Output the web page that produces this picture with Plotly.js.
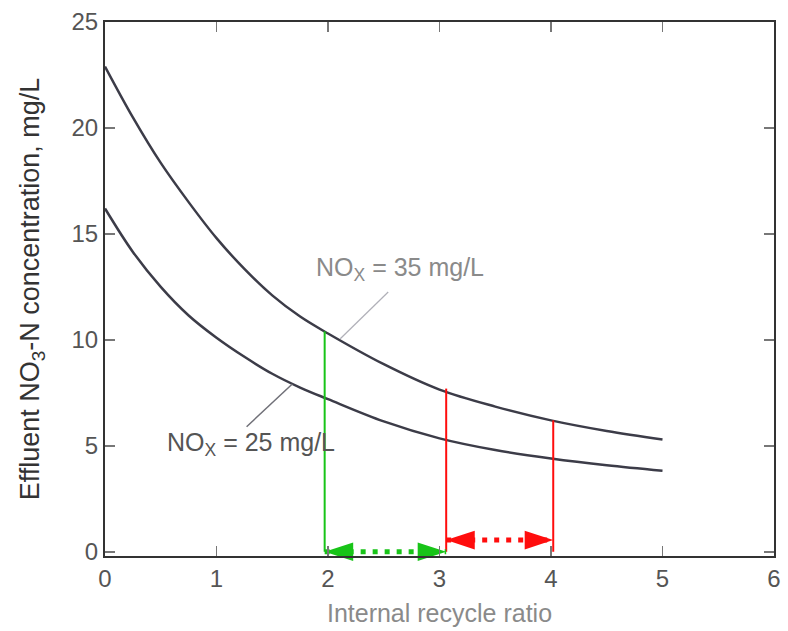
<!DOCTYPE html>
<html>
<head>
<meta charset="utf-8">
<script src="https://cdn.plot.ly/plotly-3.0.1.min.js"></script>
<style>html,body{margin:0;padding:0;background:#fff;}#chart{width:788px;height:631px;}</style>
</head>
<body>
<div id="chart"></div>
<script>
// Internal recycle ratio (x) and effluent NO3-N concentration (mg/L)
var recycleRatio = [0, 0.25, 0.5, 0.75, 1, 1.25, 1.5, 1.75, 2, 2.5, 3, 3.5, 4, 4.5, 5];
var nox35 = [22.9, 20.5, 18.35, 16.5, 14.8, 13.35, 12.1, 11.1, 10.3, 8.85, 7.65, 6.85, 6.2, 5.7, 5.3];
var nox25 = [16.2, 14.15, 12.5, 11.15, 10.1, 9.2, 8.4, 7.75, 7.2, 6.15, 5.35, 4.8, 4.4, 4.08, 3.82];

// Highlight markers (vertical lines) : x position and top value
var greenLineX = [1.97, 1.97];
var greenLineY = [0, 10.4];
var redLine1X = [3.06, 3.06];
var redLine1Y = [0, 7.7];
var redLine2X = [4.02, 4.02];
var redLine2Y = [0, 6.2];

// Double-headed dotted arrows
var greenArrowX = [1.97, 3.06];
var greenArrowY = [0, 0];
var redArrowX = [3.06, 4.02];
var redArrowY = [0.55, 0.55];

// Labels and leader lines
var label35Text = 'NO<sub>X</sub> = 35 mg/L';
var label35Pos = [2.65, 13.35];
var leader35X = [2.54, 2.11];
var leader35Y = [12.26, 10.05];
var label25Text = 'NO<sub>X</sub> = 25 mg/L';
var label25Pos = [1.31, 5.1];
var leader25X = [1.27, 1.68];
var leader25Y = [5.9, 7.92];

var xTicks = [0, 1, 2, 3, 4, 5, 6];
var yTicks = [0, 5, 10, 15, 20, 25];

var FONT = 'Liberation Sans, Arial, Helvetica, sans-serif';
var curveColor = '#3c3c48';
var green = '#18c418';
var red = '#ff0d0d';

var traces = [
  {x: recycleRatio, y: nox35, mode: 'lines', line: {color: curveColor, width: 2.5, shape: 'spline', smoothing: 1}, hoverinfo: 'skip'},
  {x: recycleRatio, y: nox25, mode: 'lines', line: {color: curveColor, width: 2.5, shape: 'spline', smoothing: 1}, hoverinfo: 'skip'},
  {x: leader35X, y: leader35Y, mode: 'lines', line: {color: '#b0b0b8', width: 1.2}, hoverinfo: 'skip'},
  {x: leader25X, y: leader25Y, mode: 'lines', line: {color: '#707078', width: 1.5}, hoverinfo: 'skip'},
  {x: greenLineX, y: greenLineY, mode: 'lines', line: {color: green, width: 2}, hoverinfo: 'skip'},
  {x: redLine1X, y: redLine1Y, mode: 'lines', line: {color: red, width: 2}, hoverinfo: 'skip'},
  {x: redLine2X, y: redLine2Y, mode: 'lines', line: {color: red, width: 2}, hoverinfo: 'skip'},
  {x: greenArrowX, y: greenArrowY, mode: 'lines+markers', cliponaxis: false,
   line: {color: green, width: 5, dash: '5px,7px'},
   marker: {symbol: 'arrow', size: 30, color: green, angle: [-90, 90], angleref: 'up', line: {width: 0}},
   hoverinfo: 'skip'},
  {x: redArrowX, y: redArrowY, mode: 'lines+markers', cliponaxis: false,
   line: {color: red, width: 5, dash: '5px,7px'},
   marker: {symbol: 'arrow', size: 30, color: red, angle: [-90, 90], angleref: 'up', line: {width: 0}},
   hoverinfo: 'skip'}
];

var layout = {
  width: 788, height: 631,
  margin: {l: 105, r: 14, t: 22, b: 75},
  paper_bgcolor: '#fff', plot_bgcolor: '#fff',
  showlegend: false,
  font: {family: FONT, size: 24, color: '#444'},
  xaxis: {
    range: [0, 6], tickvals: xTicks, ticktext: xTicks.map(String),
    ticks: 'inside', ticklen: 10, tickwidth: 1.5, tickcolor: '#777',
    showline: true, linecolor: '#333', linewidth: 2, mirror: 'ticks',
    showgrid: false, zeroline: false,
    tickfont: {family: FONT, size: 24, color: '#555'},
    title: {text: 'Internal recycle ratio', font: {family: FONT, size: 25, color: '#8a8a8a'}, standoff: 14}
  },
  yaxis: {
    range: [-0.2, 25], tickvals: yTicks, ticktext: yTicks.map(String),
    ticks: 'inside', ticklen: 10, tickwidth: 1.5, tickcolor: '#777',
    showline: true, linecolor: '#333', linewidth: 2, mirror: 'ticks',
    showgrid: false, zeroline: false,
    tickfont: {family: FONT, size: 24, color: '#555'},
    title: {text: 'Effluent NO<sub>3</sub>-N concentration, mg/L', font: {family: FONT, size: 27, color: '#333'}, standoff: 24}
  },
  annotations: [
    {x: label35Pos[0], y: label35Pos[1], xref: 'x', yref: 'y', text: label35Text, showarrow: false,
     font: {family: FONT, size: 25, color: '#8a8a8a'}},
    {x: label25Pos[0], y: label25Pos[1], xref: 'x', yref: 'y', text: label25Text, showarrow: false,
     font: {family: FONT, size: 25, color: '#555'}}
  ]
};

Plotly.newPlot('chart', traces, layout, {staticPlot: true, displayModeBar: false});
</script>
</body>
</html>
